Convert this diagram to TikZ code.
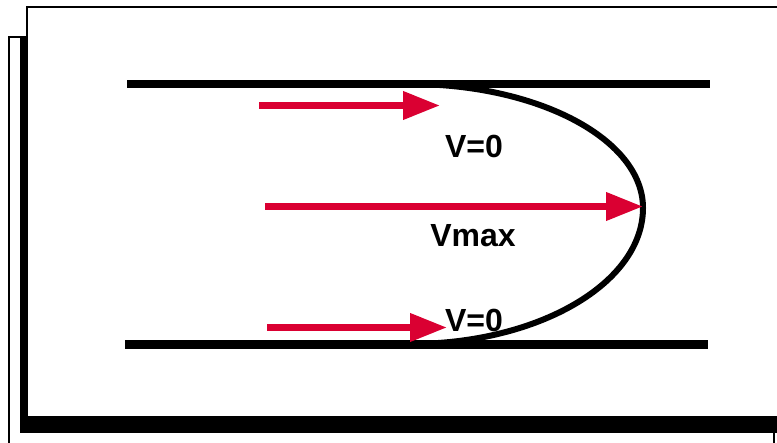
\documentclass[tikz,border=0pt]{standalone}
\usepackage{fontspec}
\setmainfont{Liberation Sans}
\usetikzlibrary{arrows.meta}
\definecolor{flowred}{RGB}{218,0,50}
\tikzset{
  frameline/.style={draw=black,line width=2pt},
  wall/.style={draw=black,line width=8.5pt},
  profile/.style={draw=black,line width=6pt},
  flow/.style={draw=flowred,line width=7pt,-{Triangle[length=37pt,width=27pt]}},
  lbl/.style={font=\fontsize{32}{32}\selectfont\bfseries,inner sep=0pt,anchor=base}
}
\begin{document}
\begin{tikzpicture}[x=1pt,y=-1pt]
\useasboundingbox (0,0) rectangle (777,443);
\clip (0,0) rectangle (777,443);
\fill[white] (0,0) rectangle (777,443);
% back sheet
\draw[frameline] (9,450) -- (9,37) -- (27,37);
\draw[frameline] (774,433) -- (774,450);
% front sheet with shadow
\fill[black] (20,37) -- (28,37) -- (28,417) -- (820,417) -- (820,433) -- (20,433) -- cycle;
\filldraw[fill=white,frameline] (27,7) rectangle (830,417);
% channel walls
\coordinate (tl) at (127,84);
\coordinate (tr) at (710,84);
\coordinate (bl) at (125,344.5);
\coordinate (br) at (708,344.5);
\draw[wall] (tl) -- (tr);
\draw[wall] (bl) -- (br);
% velocity profile (half ellipse)
\coordinate (ptop) at (410,84);
\coordinate (pmid) at (643,208);
\coordinate (pbot) at (410,344);
\draw[profile] (ptop) .. controls (538.7,84) and (643,139.5) .. (pmid)
  .. controls (643,283) and (538.7,344) .. (pbot);
% flow arrows
\coordinate (a1s) at (259,105.5);
\coordinate (a1e) at (440,105.5);
\coordinate (a2s) at (265,206.5);
\coordinate (a2e) at (643,206.5);
\coordinate (a3s) at (267,327.5);
\coordinate (a3e) at (447,327.5);
\draw[flow] (a1s) -- (a1e);
\draw[flow] (a2s) -- (a2e);
\draw[flow] (a3s) -- (a3e);
% labels
\node[lbl] (v0top) at (474,158) {V=0};
\node[lbl] (vmax) at (473,247) {Vmax};
\node[lbl] (v0bot) at (474,332) {V=0};
\end{tikzpicture}
\end{document}
